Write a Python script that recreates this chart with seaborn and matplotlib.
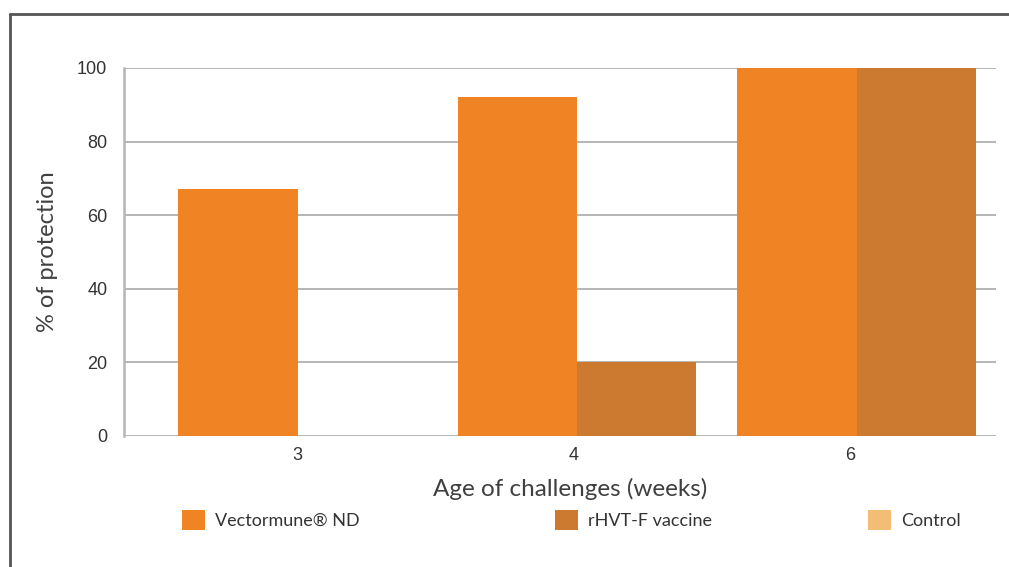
import numpy as np
import pandas as pd
import matplotlib
matplotlib.use("Agg")
import matplotlib.pyplot as plt
from matplotlib.lines import Line2D
import seaborn as sns

# ---- data ----
ages = ["3", "4", "6"]
vectormune = [67, 92, 100]
rhvt = [0, 20, 100]
control = [0, 0, 0]
series_names = ["Vectormune\u00ae ND", "rHVT-F vaccine", "Control"]
yticks = [0, 20, 40, 60, 80, 100]

colors = ["#F08424", "#CB7A2F", "#F4BD76"]

df = pd.DataFrame({
    "age": ages * 3,
    "value": vectormune + rhvt + control,
    "series": [series_names[0]] * 3 + [series_names[1]] * 3 + [series_names[2]] * 3,
})

sns.set_theme(style="white")
plt.rcParams["font.family"] = ["Liberation Sans", "DejaVu Sans"]

fig = plt.figure(figsize=(10.09, 5.67), dpi=100)
ax = fig.add_axes([124 / 1009, 1 - 436 / 567, (996 - 124) / 1009, (436 - 68) / 567])

sns.barplot(data=df, x="age", y="value", hue="series", hue_order=series_names,
            palette=colors, width=1.28, dodge=True, errorbar=None,
            saturation=1, linewidth=0, ax=ax, zorder=3)

handles, labels = ax.get_legend_handles_labels()
if ax.get_legend() is not None:
    ax.get_legend().remove()

ax.set_xlim(-0.835, 2.285)
ax.set_ylim(0, 100)
ax.set_yticks(yticks)
ax.set_yticklabels([str(v) for v in yticks], fontsize=13, color="#333333")
ax.set_xticks(np.arange(len(ages)) * 0.99 - 0.215)
ax.set_xticklabels(ages, fontsize=13, color="#333333")
ax.tick_params(axis="both", length=0, pad=12)
ax.tick_params(axis="x", pad=8)

ax.grid(axis="y", color="#b5b5b5", linewidth=1.4, zorder=0)
ax.set_axisbelow(True)
for s in ["top", "right", "bottom"]:
    ax.spines[s].set_visible(False)
ax.spines["left"].set_color("#b5b5b5")
ax.spines["left"].set_linewidth(1.8)

ax.set_ylabel("% of protection", fontsize=17, family=["Lato", "DejaVu Sans"],
              color="#404040", labelpad=14)
ax.set_xlabel("Age of challenges (weeks)", fontsize=17.5, family=["Lato", "DejaVu Sans"],
              color="#404040")
ax.xaxis.set_label_coords((570 - 124) / (996 - 124), -(478 - 436) / (436 - 68))

# legends placed individually
legend_x = [182 / 1009, 555 / 1009, 868 / 1009]
for h, lab, lx in zip(handles, labels, legend_x):
    fig.legend(handles=[h], labels=[lab], loc="center left",
               bbox_to_anchor=(lx, 1 - 520 / 567), frameon=False,
               borderpad=0, borderaxespad=0, handlelength=1.25, handleheight=1.25,
               handletextpad=0.6, prop={"family": ["Lato", "DejaVu Sans"], "size": 13},
               labelcolor="#333333")

# outer frame lines (top and left)
fig.add_artist(Line2D([10 / 1009, 10 / 1009], [0, 1 - 14 / 567], transform=fig.transFigure,
                      color="#555555", linewidth=2))
fig.add_artist(Line2D([10 / 1009, 1], [1 - 14 / 567, 1 - 14 / 567], transform=fig.transFigure,
                      color="#555555", linewidth=2))

fig.savefig("out.png", dpi=100)
